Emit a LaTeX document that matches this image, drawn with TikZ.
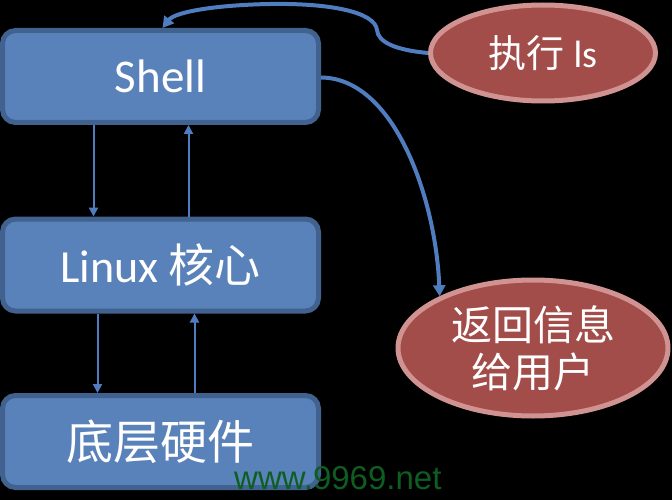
\documentclass[tikz,border=0pt]{standalone}
\usepackage{fontspec}
\setmainfont{Carlito}
\newfontfamily\cjk{Noto Sans CJK SC}
\newfontfamily\wmfont{Liberation Sans}
\usetikzlibrary{arrows.meta,shapes.geometric}
\definecolor{boxfill}{HTML}{5A82BA}
\definecolor{boxline}{HTML}{41618E}
\definecolor{ellfill}{HTML}{A24D4A}
\definecolor{ellline}{HTML}{D09392}
\definecolor{arrcol}{HTML}{4F7DBF}
\definecolor{wmgreen}{HTML}{0E5E22}
\tikzset{
  layerbox/.style={draw=boxline, fill=boxfill, line width=5pt, rounded corners=13pt,
    minimum width=316pt, minimum height=92pt, inner sep=0pt, text=white},
  bubble/.style={ellipse, draw=ellline, fill=ellfill, line width=5pt, inner sep=0pt, text=white},
  thinarr/.style={draw=arrcol, line width=2pt, -{Triangle[length=9pt,width=9pt]}},
  bigarr/.style={draw=arrcol, line width=4pt, -{Triangle[length=11pt,width=12pt]}},
}
\begin{document}
\begin{tikzpicture}[x=1pt,y=-1pt]
\useasboundingbox (0,0) rectangle (672,500);
\fill[black] (0,0) rectangle (672,500);

\node[layerbox] (shell) at (160.5,76.5) {\fontsize{47}{50}\selectfont Shell};
\node[layerbox] (linux) at (160.5,265) {\fontsize{46}{50}\selectfont Linux {\cjk 核心}};
\node[layerbox] (hw) at (160.5,441.5) {\fontsize{47}{50}\selectfont\cjk 底层硬件};

\node[bubble, minimum width=225pt, minimum height=96pt] (exec) at (543,53)
  {\fontsize{38}{42}\selectfont{\cjk 执行} ls};
\node[bubble, minimum width=270pt, minimum height=136pt, align=center,
  font=\fontsize{41}{47}\selectfont\cjk] (ret) at (533,348)
  {返回信息\\给用户};

\draw[thinarr] ([xshift=-67pt]shell.south) -- ([xshift=-67pt]linux.north);
\draw[thinarr] ([xshift=28pt]linux.north) -- ([xshift=28pt]shell.south);
\draw[thinarr] ([xshift=-63pt]linux.south) -- ([xshift=-63pt]hw.north);
\draw[thinarr] ([xshift=34pt]hw.north) -- ([xshift=34pt]linux.south);

\draw[bigarr] (exec.west) .. controls (395,50) and (378,42) .. (377,30)
  .. controls (375,12) and (330,3) .. (270,4)
  .. controls (215,5) and (175,12) .. ([xshift=2pt]shell.north);
\draw[bigarr] ([yshift=-1pt]shell.east) .. controls (395,78) and (436,200) .. (ret.151);

\node[text=wmgreen, anchor=base west, inner sep=0pt] (wm) at (234,489)
  {\wmfont\fontsize{33}{36}\selectfont www.9969.net};
\end{tikzpicture}
\end{document}
